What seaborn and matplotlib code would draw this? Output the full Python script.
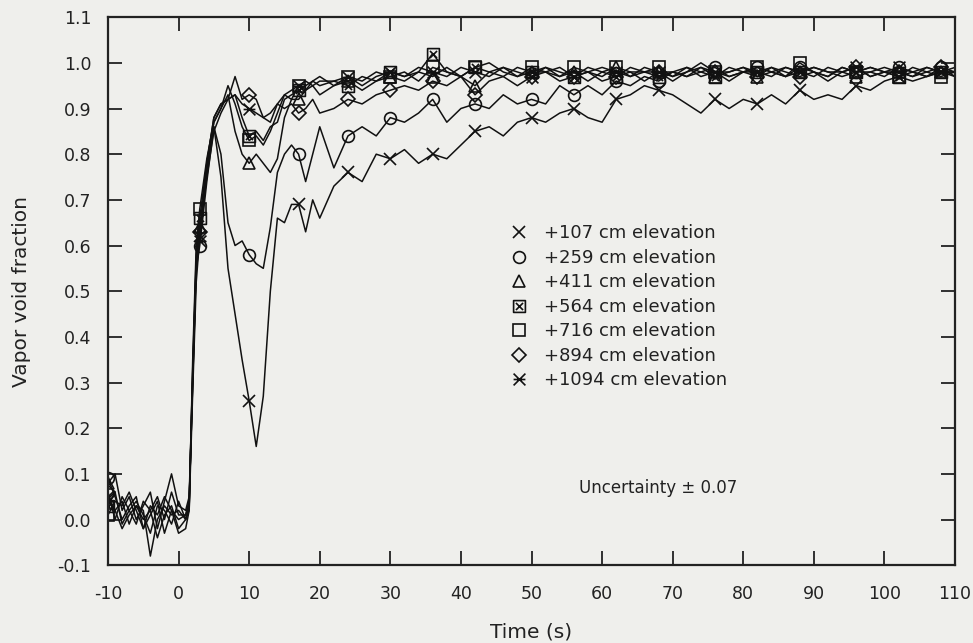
import numpy as np
import pandas as pd
import matplotlib
matplotlib.use("Agg")
import matplotlib.pyplot as plt
from matplotlib.path import Path
from matplotlib.lines import Line2D
import seaborn as sns

# time axis (s): 1 s steps to 20 s (finer on the rise), 2 s after that
time_s = ([-10, -9, -8, -7, -6, -5, -4, -3, -2, -1, 0, 1, 1.5, 2, 2.5, 3]
          + list(range(4, 21)) + list(range(22, 111, 2)))

void_107 = [0.05, 0.02, 0.04, -0.01, 0.03, 0.00, 0.02, -0.04, 0.01, 0.03, -0.02,
            0.00, 0.02, 0.28, 0.52, 0.62,
            0.76, 0.86, 0.75, 0.55, 0.45, 0.35, 0.26, 0.16, 0.27, 0.50, 0.66, 0.65, 0.69, 0.69, 0.63, 0.70, 0.66,
            0.73, 0.76, 0.74, 0.80, 0.79, 0.81, 0.78, 0.80, 0.79, 0.82,
            0.85, 0.86, 0.84, 0.87, 0.88, 0.87, 0.89, 0.90, 0.88, 0.87,
            0.92, 0.93, 0.95, 0.94, 0.93, 0.91, 0.89, 0.92, 0.90, 0.92,
            0.91, 0.93, 0.91, 0.94, 0.92, 0.93, 0.92, 0.95, 0.94, 0.96,
            0.97, 0.96, 0.97, 0.98, 0.97]
void_259 = [0.09, 0.05, 0.00, 0.03, 0.05, -0.02, 0.01, 0.04, -0.03, 0.02, 0.00,
            0.01, 0.04, 0.30, 0.55, 0.60,
            0.74, 0.86, 0.80, 0.65, 0.60, 0.61, 0.58, 0.56, 0.55, 0.64, 0.76, 0.80, 0.82, 0.80, 0.74, 0.80, 0.86,
            0.77, 0.84, 0.86, 0.84, 0.88, 0.87, 0.89, 0.92, 0.87, 0.90,
            0.91, 0.90, 0.93, 0.91, 0.92, 0.91, 0.95, 0.93, 0.95, 0.93,
            0.96, 0.95, 0.97, 0.96, 0.98, 0.97, 0.98, 0.99, 0.97, 0.98,
            0.99, 0.98, 0.97, 0.99, 0.98, 0.97, 0.99, 0.98, 0.98, 0.97,
            0.99, 0.98, 0.97, 0.99, 0.98]
void_411 = [0.08, 0.10, 0.02, 0.05, 0.00, 0.03, 0.06, -0.02, 0.04, 0.10, 0.03,
            0.02, 0.05, 0.32, 0.56, 0.64,
            0.77, 0.87, 0.90, 0.93, 0.85, 0.80, 0.78, 0.80, 0.78, 0.76, 0.79, 0.88, 0.92, 0.92, 0.94, 0.95, 0.93,
            0.95, 0.96, 0.94, 0.96, 0.97, 0.96, 0.98, 0.97, 0.99, 0.97,
            0.95, 0.98, 0.99, 0.97, 0.98, 0.99, 0.97, 0.98, 0.96, 0.98,
            0.99, 0.97, 0.98, 0.98, 0.96, 0.98, 0.99, 0.97, 0.98, 0.99,
            0.97, 0.98, 0.99, 0.98, 0.97, 0.99, 0.98, 0.97, 0.98, 0.99,
            0.98, 0.97, 0.99, 0.98, 0.98]
void_564 = [0.03, 0.06, -0.01, 0.02, 0.04, 0.01, -0.03, 0.03, 0.02, -0.01, 0.04,
            0.00, 0.03, 0.33, 0.58, 0.66,
            0.78, 0.88, 0.91, 0.92, 0.93, 0.88, 0.84, 0.85, 0.83, 0.86, 0.87, 0.92, 0.93, 0.94, 0.95, 0.96, 0.95,
            0.96, 0.95, 0.97, 0.96, 0.98, 0.97, 0.98, 1.02, 0.98, 0.97,
            0.99, 0.98, 0.97, 0.99, 0.98, 0.98, 0.99, 0.97, 0.99, 0.98,
            0.97, 0.99, 0.98, 0.97, 0.98, 0.99, 0.98, 0.97, 0.99, 0.98,
            0.98, 0.97, 0.99, 0.98, 0.99, 0.98, 0.97, 0.98, 0.99, 0.98,
            0.97, 0.98, 0.99, 0.98, 0.98]
void_716 = [0.01, 0.04, 0.03, 0.06, 0.02, -0.02, 0.03, 0.01, 0.05, 0.02, -0.03,
            -0.02, 0.02, 0.35, 0.60, 0.68,
            0.79, 0.87, 0.90, 0.95, 0.91, 0.86, 0.83, 0.84, 0.82, 0.85, 0.89, 0.93, 0.92, 0.95, 0.94, 0.96, 0.97,
            0.95, 0.97, 0.96, 0.98, 0.97, 0.98, 0.96, 0.99, 0.98, 0.97,
            0.99, 1.00, 0.98, 0.97, 0.99, 0.98, 0.97, 0.99, 0.98, 0.97,
            0.99, 0.98, 0.98, 0.99, 0.97, 0.98, 1.00, 0.98, 0.97, 0.98,
            0.99, 0.98, 0.97, 1.00, 0.98, 0.97, 0.99, 0.98, 0.99, 0.98,
            0.97, 0.99, 0.98, 0.97, 0.98]
void_894 = [0.06, 0.00, 0.05, 0.02, -0.01, 0.04, 0.02, 0.05, 0.00, 0.06, 0.01,
            0.01, 0.04, 0.30, 0.57, 0.63,
            0.75, 0.85, 0.89, 0.92, 0.97, 0.92, 0.93, 0.92, 0.88, 0.89, 0.91, 0.90, 0.91, 0.89, 0.90, 0.92, 0.89,
            0.90, 0.92, 0.91, 0.93, 0.94, 0.95, 0.94, 0.96, 0.95, 0.97,
            0.93, 0.96, 0.97, 0.95, 0.97, 0.98, 0.96, 0.97, 0.98, 0.96,
            0.97, 0.98, 0.96, 0.98, 0.97, 0.99, 0.97, 0.98, 0.96, 0.98,
            0.97, 0.99, 0.98, 0.97, 0.98, 0.96, 0.98, 0.99, 0.97, 0.98,
            0.98, 0.97, 0.98, 0.99, 0.97]
void_1094 = [0.04, 0.02, -0.02, 0.01, 0.03, 0.02, -0.08, 0.00, 0.03, 0.01, 0.02,
             0.00, 0.03, 0.31, 0.56, 0.61,
             0.78, 0.88, 0.91, 0.92, 0.93, 0.91, 0.90, 0.89, 0.88, 0.87, 0.91, 0.93, 0.94, 0.95, 0.96, 0.95, 0.96,
             0.96, 0.97, 0.95, 0.97, 0.98, 0.97, 0.99, 0.98, 0.97, 0.99,
             0.98, 0.97, 0.99, 0.98, 0.97, 0.99, 0.98, 0.97, 0.98, 0.99,
             0.98, 0.97, 0.99, 0.98, 0.98, 0.97, 0.99, 0.98, 0.98, 0.99,
             0.98, 0.99, 0.97, 0.98, 0.99, 0.98, 0.98, 0.99, 0.97, 0.98,
             0.99, 0.98, 0.97, 0.98, 0.99]

labels = ["+107 cm elevation", "+259 cm elevation", "+411 cm elevation",
          "+564 cm elevation", "+716 cm elevation", "+894 cm elevation",
          "+1094 cm elevation"]

# which samples get a symbol (roughly every 6-7 s)
mark_idx = [0, 15, 22, 29, 34, 37, 40, 43, 47, 50, 53, 56, 60, 63, 66, 70, 73, 76]

# boxed-x and bow-tie symbols
boxx = Path([(-1, -1), (1, -1), (1, 1), (-1, 1), (-1, -1), (-0.6, -0.6), (0.6, 0.6), (-0.6, 0.6), (0.6, -0.6)],
            [Path.MOVETO, Path.LINETO, Path.LINETO, Path.LINETO, Path.CLOSEPOLY,
             Path.MOVETO, Path.LINETO, Path.MOVETO, Path.LINETO])
bowtie = Path([(-1, -1), (1, 1), (-1, 1), (1, -1), (-1, 0), (1, 0)],
              [Path.MOVETO, Path.LINETO, Path.MOVETO, Path.LINETO, Path.MOVETO, Path.LINETO])
markers = ["x", "o", "^", boxx, "s", "D", bowtie]
msizes = [8.5, 8.5, 8.5, 8.5, 8.5, 7, 8.5]

series = [void_107, void_259, void_411, void_564, void_716, void_894, void_1094]

sns.set_style("ticks")
plt.rcParams["font.family"] = ["DejaVu Sans"]
plt.rcParams["axes.unicode_minus"] = False

bg = "#efefec"
fig = plt.figure(figsize=(9.73, 6.43), dpi=100, facecolor=bg)
ax = fig.add_axes([0.111, 0.121, 0.8705, 0.8523])
ax.set_facecolor(bg)

for vals, mk, ms in zip(series, markers, msizes):
    sns.lineplot(x=time_s, y=vals, ax=ax, color="#111111", lw=1.1, sort=False, estimator=None,
                 marker=mk, markersize=ms, markevery=mark_idx, markerfacecolor="none",
                 markeredgecolor="#111111", markeredgewidth=1.2)

ax.set_xlim(-10, 110)
ax.set_ylim(-0.1, 1.1)
ax.set_xticks(np.arange(-10, 111, 10))
ax.set_yticks(np.round(np.arange(-0.1, 1.11, 0.1), 1))
ax.set_yticklabels([f"{v:.1f}" for v in np.arange(-0.1, 1.11, 0.1)])
ax.tick_params(direction="in", length=10, width=1.3, top=True, right=True,
               labeltop=False, labelright=False, labelsize=12.5, colors="#222222")
ax.tick_params(axis="x", pad=14)
ax.tick_params(axis="y", pad=12)
for sp in ax.spines.values():
    sp.set_linewidth(1.6)
    sp.set_color("#222222")

ax.set_xlabel("Time (s)", fontsize=14.5, labelpad=14, color="#222222")
ax.set_ylabel("Vapor void fraction", fontsize=14.5, labelpad=19, color="#222222")

handles = [Line2D([], [], color="#111111", linestyle="none", marker=mk, markersize=ms,
                  markerfacecolor="none", markeredgewidth=1.2)
           for mk, ms in zip(markers, msizes)]
ax.legend(handles, labels, loc="upper left", bbox_to_anchor=(0.474, 0.622),
          frameon=False, fontsize=13, handlelength=1.0, handletextpad=0.9,
          labelspacing=0.36, borderpad=0, borderaxespad=0, labelcolor="#222222")

ax.text(68, 0.07, "Uncertainty \u00b1 0.07", ha="center", va="center", fontsize=12, color="#222222")

fig.savefig("out.png", dpi=100, facecolor=bg)
